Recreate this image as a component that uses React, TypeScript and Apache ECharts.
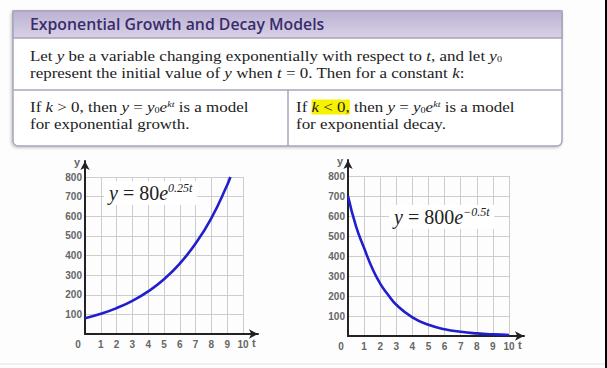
import React, { useEffect, useRef } from "react";
import * as echarts from "echarts";

// ---- data ----
const tTicks = [0, 1, 2, 3, 4, 5, 6, 7, 8, 9, 10];
const yTicks = [0, 100, 200, 300, 400, 500, 600, 700, 800];
const growthT = [0, 1, 2, 3, 4, 5, 6, 7, 8, 9, 9.2];
const growthY = [80, 103, 132, 169, 217, 279, 359, 461, 591, 759, 800];
const decayT = [0, 0.5, 1, 1.5, 2, 2.5, 3, 4, 5, 6, 7, 8, 9, 10];
const decayY = [700, 548, 440, 340, 262, 205, 156, 93, 56, 34, 21, 13, 8, 5];

const title = "Exponential Growth and Decay Models";
const introLines = [
  "Let {i|y} be a variable changing exponentially with respect to {i|t}, and let {i|y}{sub|0}",
  "represent the initial value of {i|y} when {i|t} = 0. Then for a constant {i|k}:",
];
const growthLines = [
  "If {i|k} > 0, then {i|y} = {i|y}{sub|0}{i|e}{sup|kt} is a model",
  "for exponential growth.",
];
const decayLines = [
  "If {hi|k}{h| < 0,} then {i|y} = {i|y}{sub|0}{i|e}{sup|kt} is a model",
  "for exponential decay.",
];
const growthEq = "{i|y} = 80{i|e}{sup|0.25t}";
const decayEq = "{i|y} = 800{i|e}{sup|−0.5t}";

const SERIF = "'Liberation Serif', 'Times New Roman', serif";
const SANS = "'Liberation Sans', Arial, sans-serif";
const BODY_FS = 15;
const BODY_LH = 15;
const BODY_SCALE_X = 1.13;
const YELLOW = "#f7f200";

const bodyRich = {
  i: { fontStyle: "italic", fontFamily: SERIF, fontSize: BODY_FS, lineHeight: BODY_LH, fill: "#222" },
  hi: { fontStyle: "italic", fontFamily: SERIF, fontSize: BODY_FS, lineHeight: BODY_LH, fill: "#222", backgroundColor: YELLOW },
  h: { fontFamily: SERIF, fontSize: BODY_FS, lineHeight: BODY_LH, fill: "#222", backgroundColor: YELLOW },
  sub: { fontFamily: SERIF, fontSize: 9, verticalAlign: "bottom", lineHeight: BODY_LH, fill: "#222" },
  sup: { fontStyle: "italic", fontFamily: SERIF, fontSize: 9, verticalAlign: "top", lineHeight: BODY_LH, fill: "#222" },
};

const eqRich = {
  i: { fontStyle: "italic", fontFamily: SERIF, fontSize: 20, lineHeight: 22, fill: "#222" },
  sup: { fontStyle: "italic", fontFamily: SERIF, fontSize: 12, verticalAlign: "top", lineHeight: 22, fill: "#222" },
};

function bodyText(x: number, y: number, text: string) {
  return {
    type: "text",
    x,
    y,
    scaleX: BODY_SCALE_X,
    z: 10,
    style: {
      text,
      rich: bodyRich,
      fontFamily: SERIF,
      fontSize: BODY_FS,
      fill: "#222",
      lineHeight: BODY_LH,
      verticalAlign: "middle",
    },
  };
}

function eqText(x: number, y: number, text: string) {
  return {
    type: "text",
    x,
    y,
    z: 20,
    style: {
      text,
      rich: eqRich,
      fontFamily: SERIF,
      fontSize: 20,
      fill: "#222",
      lineHeight: 22,
      verticalAlign: "middle",
      backgroundColor: "#fff",
      padding: [1, 5, 1, 5],
    },
  };
}

const gridLine = { show: true, lineStyle: { color: "#cdcdcd", width: 1 } };
const labelStyle = { color: "#666", fontSize: 10, fontWeight: "bold" as const, fontFamily: SANS };

function mainX(gridIndex: number) {
  return {
    type: "value",
    gridIndex,
    min: 0,
    max: 10,
    interval: 1,
    axisLine: { show: false },
    axisTick: { show: false },
    splitLine: gridLine,
    axisLabel: {
      ...labelStyle,
      margin: 5,
      formatter: (v: number) => (v === 0 ? "{o|0}" : String(v)),
      rich: { o: { ...labelStyle, padding: [0, 14, 0, 0] } },
    },
  };
}
function mainY(gridIndex: number) {
  return {
    type: "value",
    gridIndex,
    min: 0,
    max: 800,
    interval: 100,
    axisLine: { show: false },
    axisTick: { show: false },
    splitLine: gridLine,
    axisLabel: { ...labelStyle, margin: 3, formatter: (v: number) => (v === 0 ? "" : String(v)) },
  };
}
const axisLineArrow = {
  show: true,
  symbol: ["none", "arrow"],
  symbolSize: [7, 9],
  lineStyle: { color: "#222", width: 2 },
};
function arrowX(gridIndex: number) {
  return {
    type: "value",
    gridIndex,
    min: 0,
    max: 1,
    axisLine: axisLineArrow,
    axisTick: { show: false },
    axisLabel: { show: false },
    splitLine: { show: false },
    name: "t",
    nameLocation: "end",
    nameGap: -6,
    nameTextStyle: { ...labelStyle, fontSize: 11, verticalAlign: "top", padding: [3, 0, 0, 0] },
  };
}
function arrowY(gridIndex: number) {
  return {
    type: "value",
    gridIndex,
    min: 0,
    max: 1,
    axisLine: axisLineArrow,
    axisTick: { show: false },
    axisLabel: { show: false },
    splitLine: { show: false },
    name: "y",
    nameLocation: "end",
    nameGap: -6,
    nameTextStyle: { ...labelStyle, fontSize: 11, align: "right", padding: [0, 5, 0, 0] },
  };
}

export default function App() {
  const ref = useRef<HTMLDivElement>(null);
  useEffect(() => {
    if (!ref.current) return;
    const chart = echarts.init(ref.current, undefined, { renderer: "svg" });
    const border = "#a9a4bb";
    chart.setOption({
      animation: false,
      backgroundColor: "#fdfdfd",
      grid: [
        { left: 85, top: 177, width: 158, height: 157 },
        { left: 348, top: 176, width: 161, height: 160 },
        { left: 85, top: 161, width: 173, height: 173 },
        { left: 348, top: 160, width: 176, height: 176 },
      ],
      xAxis: [mainX(0), mainX(1), arrowX(2), arrowX(3)],
      yAxis: [mainY(0), mainY(1), arrowY(2), arrowY(3)],
      series: [
        {
          type: "line",
          xAxisIndex: 0,
          yAxisIndex: 0,
          data: growthT.map((t, i) => [t, growthY[i]]),
          smooth: true,
          showSymbol: false,
          lineStyle: { color: "#1f1fcc", width: 2.6 },
          z: 5,
        },
        {
          type: "line",
          xAxisIndex: 1,
          yAxisIndex: 1,
          data: decayT.map((t, i) => [t, decayY[i]]),
          smooth: true,
          showSymbol: false,
          lineStyle: { color: "#1f1fcc", width: 2.6 },
          z: 5,
        },
      ],
      graphic: [
        // box
        {
          type: "rect",
          shape: { x: 13, y: 11, width: 549, height: 135, r: [2, 2, 5, 5] },
          style: { fill: "#ffffff", stroke: border, lineWidth: 1.5, shadowColor: "rgba(0,0,0,0.25)", shadowBlur: 3, shadowOffsetX: -1, shadowOffsetY: 1 },
          z: 1,
        },
        {
          type: "rect",
          shape: { x: 13, y: 11, width: 549, height: 27 },
          style: {
            fill: new echarts.graphic.LinearGradient(0, 0, 0, 1, [
              { offset: 0, color: "#bbb1d2" },
              { offset: 1, color: "#d8d2e7" },
            ]),
            stroke: border,
            lineWidth: 1.5,
          },
          z: 2,
        },
        {
          type: "text",
          x: 30,
          y: 24,
          z: 3,
          style: { text: title, fontFamily: "'Open Sans', sans-serif", fontWeight: 600, fontSize: 15.8, fill: "#3a2c6b", verticalAlign: "middle" },
        },
        { type: "line", shape: { x1: 13, y1: 90, x2: 562, y2: 90 }, style: { stroke: border, lineWidth: 1.5 }, z: 3 },
        { type: "line", shape: { x1: 288, y1: 90, x2: 288, y2: 146 }, style: { stroke: border, lineWidth: 1.5 }, z: 3 },
        bodyText(30, 56, introLines[0]),
        bodyText(30, 73, introLines[1]),
        bodyText(30, 107, growthLines[0]),
        bodyText(30, 124, growthLines[1]),
        bodyText(296, 107, decayLines[0]),
        bodyText(296, 124, decayLines[1]),
        eqText(104, 193, growthEq),
        eqText(389, 217, decayEq),
        // window edge
        { type: "rect", shape: { x: 605, y: 0, width: 2, height: 368 }, style: { fill: "#000" }, z: 30 },
        { type: "line", shape: { x1: 0, y1: 364, x2: 605, y2: 364 }, style: { stroke: "#e2e2e2", lineWidth: 1 }, z: 30 },
      ],
    });
    return () => chart.dispose();
  }, []);
  return (
    <div
      ref={ref}
      style={{ position: "absolute", left: 0, top: 0, width: 607, height: 368 }}
    />
  );
}
